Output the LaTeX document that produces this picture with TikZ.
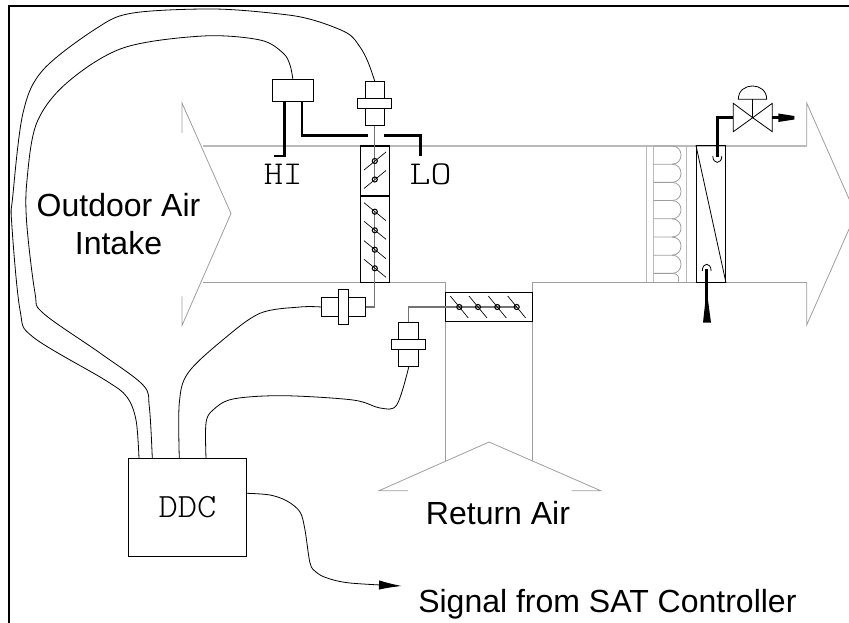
\documentclass[tikz,border=0pt]{standalone}
\usepackage{fontspec}
\setmainfont{Liberation Sans}
\newfontfamily\cadfont{Latin Modern Mono Light}
\usetikzlibrary{arrows.meta}
\newcommand{\cadtext}[2]{\fontsize{#1}{#1}\cadfont #2}

\begin{document}
\begin{tikzpicture}[x=0.75pt, y=-0.75pt, >=latex]
	% Stili comuni
	\tikzset{
		part/.style n args={2}{
			draw,
			fill=white,
			inner sep=0pt,
			line width=0.8pt,
			minimum width=#1*0.75pt,
			minimum height=#2*0.75pt
		},
		duct/.style={draw=black!27, line width=0.9pt},
		edge/.style={draw=black!38, line width=0.6pt},
		wire/.style={draw, line width=0.6pt},
		tube/.style={draw, line width=1.9pt},
		blade/.style={draw, line width=0.5pt},
		link/.style={draw=black!55, line width=0.8pt},
		label/.style={font=\fontsize{24}{29}\selectfont, align=center}
	}
	\clip (0,0) rectangle (849,623);

	% Cornice
	\draw[line width=1.5pt] (9.3,623) -- (9.3,6.3) -- (849,6.3);

	% Condotto
	\draw[edge] (182,133) -- (182,103) -- (231,213.5) -- (182,325.5) -- (182,296.5);
	\draw[edge] (806.7,146) -- (806.7,103) -- (855.7,214) -- (806.7,325) -- (806.7,282.5);
	\draw[duct] (203,146) -- (806.7,146);
	\draw[edge] (203,282.5) -- (445.7,282.5) -- (445.7,461);
	\draw[edge] (806.7,282.5) -- (532.7,282.5) -- (532.7,461);
	\draw[edge] (408,490.7) -- (379,490.7) -- (489,442) -- (600.7,490.7) -- (571.7,490.7);

	% Batteria
	\draw[duct] (646.7,146) -- (646.7,282.5) (653.3,146) -- (653.3,282.5) (686.7,146) -- (686.7,282.5);
	\foreach \y in {146,164.2,182.4,200.6,218.8,237,255.2} {
		\draw[edge] (653.3,\y) -- (672,\y) .. controls (684,\y) and (684,\y+18.2) .. (672,\y+18.2);
	}
	\draw[edge] (653.3,273.4) -- (672,273.4) .. controls (678,273.4) and (680,277) .. (678,282.5);

	% Serrande e scambiatore
	\node[part={29}{136.5}, fill=none] (coil) at (711,214.2) {};
	\draw[line width=0.6pt] (coil.north west) -- (coil.south east);
	\node[part={28.6}{50}, fill=none] (damperT) at (375,171) {};
	\node[part={28.6}{86.5}, fill=none] (damperL) at (375,239.2) {};
	\node[part={87}{29}, fill=none] (damperR) at (489.2,306.8) {};

	% Attuatori
	\node[part={19}{43.5}] (bodyA) at (374.8,103.5) {};
	\node[part={34.3}{10}] (barA) at (bodyA) {};
	\node[part={44}{19.4}] (bodyB) at (343.7,307) {};
	\node[part={10}{35}] (barB) at (bodyB) {};
	\node[part={19.7}{43.6}] (bodyC) at (408.8,344.5) {};
	\node[part={34.3}{10}] (barC) at (bodyC) {};
	\node[part={41}{22}] (sensor) at (292.8,90.3) {};

	% Tiranti
	\coordinate (hubT) at (374.8,179.5);
	\coordinate (hubL) at (374.8,211.7);
	\coordinate (hubR) at (516.7,307);
	\coordinate (kneeB) at (374.8,307);
	\coordinate (kneeC) at (408.8,307);
	\draw[link] (bodyA.south) -- (hubT);
	\draw[link] (hubL) -- (kneeB) -- (bodyB.east);
	\draw[link] (hubR) -- (kneeC) -- (bodyC.north);
	\foreach \y in {161,179.5} {
		\draw[blade] (364,\y+9) -- (386,\y-9);
		\draw[blade, line width=0.8pt] (374.8,\y) circle (1.9pt);
	}
	\foreach \y in {211.7,230.3,249.7,268.3} {
		\draw[blade] (364,\y-9) -- (386,\y+9);
		\draw[blade, line width=0.8pt] (374.8,\y) circle (1.9pt);
	}
	\foreach \x in {459.3,478,497.3,516.7} {
		\draw[blade] (\x-9,296) -- (\x+9,318);
		\draw[blade, line width=0.8pt] (\x,307) circle (1.9pt);
	}

	% Prese HI e LO
	\coordinate (hiOut) at (284.3,101.3);
	\coordinate (hiEnd) at (274,156);
	\coordinate (loOut) at (302,101.3);
	\coordinate (loGapL) at (368.3,135.7);
	\coordinate (loGapR) at (384,135.7);
	\coordinate (loEnd) at (420.3,156);
	\draw[tube] (hiOut) |- (hiEnd);
	\draw[tube] (loOut) |- (loGapL);
	\draw[tube] (loGapR) -| (loEnd);
	\node[anchor=base] (hi) at (283,185) {\scalebox{1.1}[1]{\cadtext{25}{HI}}};
	\node[anchor=base] (lo) at (430.5,185) {\scalebox{1.2}[1]{\cadtext{25}{LO}}};

	% Valvola
	\node[inner sep=0pt] (valve) at (752.7,117.7) {};
	\draw[line width=0.6pt, fill=white] (733.3,103.3) -- (733.3,131.7) -- (valve.center) -- cycle;
	\draw[line width=0.6pt, fill=white] (772.3,103.3) -- (772.3,131.7) -- (valve.center) -- cycle;
	\coordinate (stem) at (752.7,99.3);
	\draw[line width=0.6pt] (valve.center) -- (stem);
	\draw[line width=0.6pt] (738.3,99.3) -- (766.7,99.3) .. controls (766.7,81.5) and (738.3,81.5) .. (738.3,99.3) -- cycle;
	\coordinate (valveIn) at (733.3,117.7);
	\coordinate (valveOut) at (772.3,117.7);
	\coordinate (probeTop) at (717.3,157);
	\coordinate (probeBot) at (706.7,269);
	\draw[tube] (valveIn) -| (probeTop);
	\draw[tube] (valveOut) -- (779,117.7);
	\fill (778.3,113.5) -- (794.3,116) -- (794.3,119.5) -- (778.3,122) -- cycle;
	\draw[line width=0.6pt] (712.8,156) .. controls (712.8,164.5) and (721.8,164.5) .. (721.8,156);
	\draw[line width=0.6pt] (702.3,271) .. controls (702.3,262) and (711.1,262) .. (711.1,271);
	\draw[tube] (probeBot) -- (706.7,308);
	\fill (705.7,298) -- (707.7,298) -- (711,322.7) -- (703,322.7) -- cycle;

	% Regolatore
	\node[part={118.7}{97.7}, line width=0.7pt] (ddc) at (187.6,507.2) {\scalebox{1.08}[1]{\cadtext{25.5}{DDC}}};
	\coordinate (ddcA) at (139,458.3);
	\coordinate (ddcB) at (152.3,458.3);
	\coordinate (ddcC) at (179.3,458.3);
	\coordinate (ddcD) at (206,458.3);
	\coordinate (ddcE) at (247,493.3);
	\coordinate (signalEnd) at (401.7,586);

	% Collegamenti
	\draw[wire] plot[smooth, tension=0.55] coordinates {(ddcA) (136,420) (126.7,396.7) (105,380) (33,337) (20,310) (11.7,223) (12.7,197) (23,113) (43,70) (97,28) (133,13) (213,9) (280,14) (313,20) (347,33) (360,47) (368,62) (bodyA.north)};
	\draw[wire] plot[smooth, tension=0.55] coordinates {(ddcB) (149.3,406.7) (143,385) (100,353) (43,313) (35,293) (26.7,223) (27,180) (36.7,123) (66.7,83) (123,48) (203,36) (260,40) (283,53) (290,65) (sensor.north)};
	\draw[wire] plot[smooth, tension=0.55] coordinates {(ddcC) (179.3,403) (188,373) (222.7,340) (260,313.3) (300,307) (bodyB.west)};
	\draw[wire] plot[smooth, tension=0.55] coordinates {(ddcD) (206,423) (213,410) (233,399) (283,395.7) (353,400) (380,408) (396.7,405) (bodyC.south)};
	\draw[wire, -{Latex[length=17pt, width=7pt]}] plot[smooth, tension=0.55] coordinates {(ddcE) (270,495) (287,501) (300,512) (305,530) (310,563) (316,572) (327,578) (350,583) (signalEnd)};

	% Etichette
	\node[label] (intake) at (118.5,224) {Outdoor Air\\Intake};
	\node[label, anchor=base] (returnair) at (498,524.3) {Return Air};
	\node[label, anchor=base west, inner xsep=0pt] (signal) at (418,612) {Signal from SAT Controller};
\end{tikzpicture}
\end{document}
